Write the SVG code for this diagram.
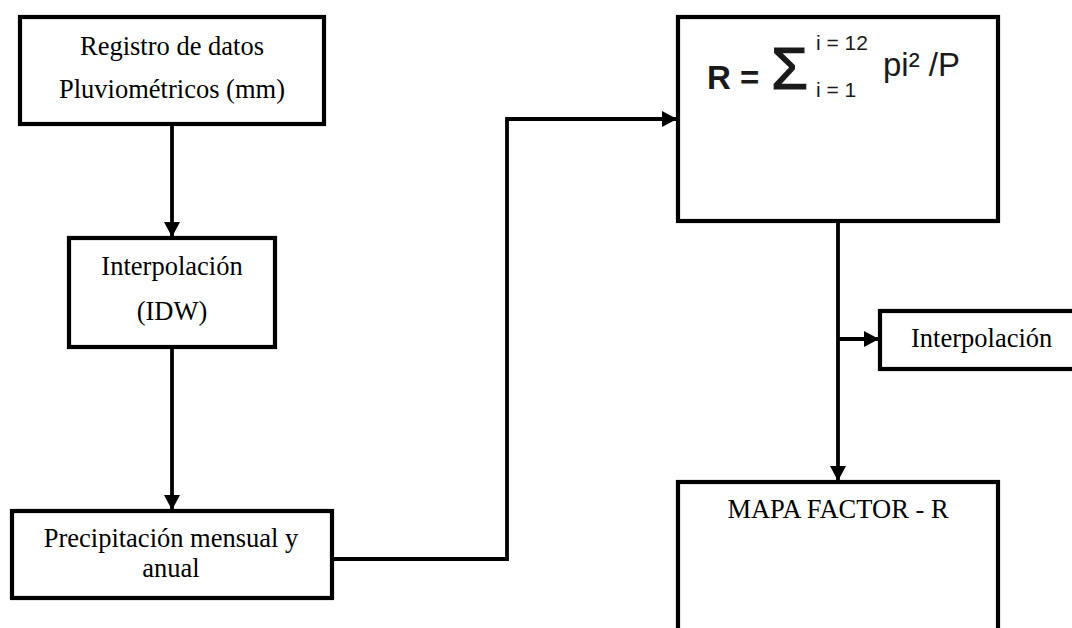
<svg xmlns="http://www.w3.org/2000/svg" width="1072" height="628" viewBox="0 0 1072 628">
<style>
.box{fill:#fff;stroke:#000;stroke-width:4.2}
.t{font-family:"Liberation Serif","Times New Roman",serif;font-size:26.5px;fill:#000}
.c{text-anchor:middle}
.f{font-family:"Liberation Sans",Arial,sans-serif;fill:#1a1a1a}
.con{fill:none;stroke:#000;stroke-width:3.8}
</style>
<defs>
<marker id="ah" markerUnits="userSpaceOnUse" markerWidth="18" markerHeight="18" viewBox="0 0 18 18" refX="16" refY="9" orient="auto">
<path d="M1,1 L16,9 L1,17 Z" fill="#000"/>
</marker>
</defs>
<rect width="1072" height="628" fill="#fff"/>
<g id="connectors">
<path class="con" d="M172,124 V237" marker-end="url(#ah)"/>
<path class="con" d="M172,347 V510" marker-end="url(#ah)"/>
<path class="con" d="M332,559 H507 V119 H677" marker-end="url(#ah)"/>
<path class="con" d="M838,221 V481" marker-end="url(#ah)"/>
<path class="con" d="M838,339 H879" marker-end="url(#ah)"/>
</g>
<g id="n1">
<rect class="box" x="20" y="17" width="304" height="107"/>
<text class="t c" x="172" y="55">Registro de datos</text>
<text class="t c" x="172" y="98">Pluviométricos (mm)</text>
</g>
<g id="n2">
<rect class="box" x="69" y="238" width="206" height="109"/>
<text class="t c" x="172" y="275">Interpolación</text>
<text class="t c" x="172" y="320">(IDW)</text>
</g>
<g id="n3">
<rect class="box" x="12" y="511" width="320" height="87"/>
<text class="t c" x="171" y="547">Precipitación mensual y</text>
<text class="t c" x="171" y="577">anual</text>
</g>
<g id="nR">
<rect class="box" x="678" y="17" width="320" height="204"/>
<text class="f" x="707" y="89" font-size="33" font-weight="bold">R =</text>
<text class="f" x="771" y="89" font-size="60" stroke="#1a1a1a" stroke-width="1.2">Σ</text>
<text class="f" x="816" y="50" font-size="21">i = 12</text>
<text class="f" x="816" y="97" font-size="21">i = 1</text>
<text class="f" x="883" y="76" font-size="33">pi² /P</text>
</g>
<g id="nI">
<rect class="box" x="880" y="311" width="210" height="58"/>
<text class="t" x="911" y="347">Interpolación</text>
</g>
<g id="nM">
<rect class="box" x="678" y="482" width="320" height="200"/>
<text class="t c" x="838" y="518">MAPA FACTOR - R</text>
</g>
</svg>
